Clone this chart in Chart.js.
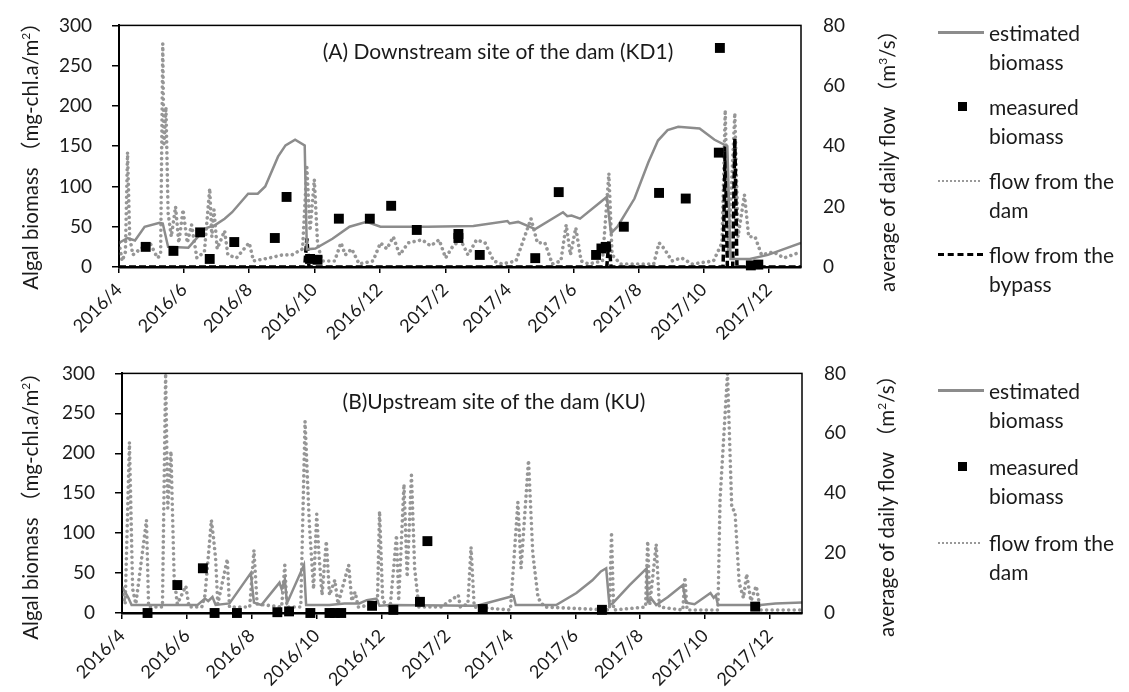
<!DOCTYPE html>
<html><head><meta charset="utf-8">
<script src="https://cdn.jsdelivr.net/npm/chart.js@4.4.1/dist/chart.umd.min.js"></script>
<style>
body{margin:0;background:#fff;width:1129px;height:692px;overflow:hidden;position:relative;font-family:Lato,"Noto Sans CJK SC",sans-serif;color:#1a1a1a}
canvas{position:absolute;left:0}
.t{position:absolute;white-space:nowrap;font-size:21px;line-height:29px}
.rot{position:absolute;transform:translate(-50%,-50%) rotate(-90deg);white-space:nowrap;font-size:20.5px}
.ptitle{position:absolute;transform:translate(-50%,-50%);white-space:nowrap;font-size:21px}
.sym{position:absolute}
</style></head>
<body>
<canvas id="cA" width="1129" height="348" style="top:-8px"></canvas>
<canvas id="cB" width="1129" height="352" style="top:340px"></canvas>

<div class="ptitle" style="left:498px;top:50px">(A) Downstream site of the dam (KD1)</div>
<div class="ptitle" style="left:494px;top:400px">(B)Upstream site of the dam (KU)</div>

<div class="rot" style="left:29px;top:151px">Algal biomass （mg-chl.a/m<sup style="font-size:12px">2</sup>）</div>
<div class="rot" style="left:886px;top:156px">average of daily flow （m<sup style="font-size:12px">3</sup>/s）</div>
<div class="rot" style="left:29px;top:501px">Algal biomass （mg-chl.a/m<sup style="font-size:12px">2</sup>）</div>
<div class="rot" style="left:885px;top:501px">average of daily flow （m<sup style="font-size:12px">2</sup>/s）</div>

<!-- legend A -->
<div class="sym" style="left:938px;top:31px;width:46px;border-top:3px solid #8c8c8c"></div>
<div class="t" style="left:989px;top:18px">estimated<br>biomass</div>
<div class="sym" style="left:958px;top:102px;width:9px;height:9px;background:#000"></div>
<div class="t" style="left:989px;top:92px">measured<br>biomass</div>
<div class="sym" style="left:938px;top:180px;width:42px;border-top:2px dotted #999"></div>
<div class="t" style="left:989px;top:166px">flow from the<br>dam</div>
<div class="sym" style="left:938px;top:253px;width:45px;border-top:3px dashed #000"></div>
<div class="t" style="left:989px;top:240px">flow from the<br>bypass</div>

<!-- legend B -->
<div class="sym" style="left:938px;top:389px;width:46px;border-top:3px solid #8c8c8c"></div>
<div class="t" style="left:989px;top:376px">estimated<br>biomass</div>
<div class="sym" style="left:958px;top:462px;width:9px;height:9px;background:#000"></div>
<div class="t" style="left:989px;top:452px">measured<br>biomass</div>
<div class="sym" style="left:938px;top:542px;width:42px;border-top:2px dotted #999"></div>
<div class="t" style="left:989px;top:528px">flow from the<br>dam</div>

<script>
// ---------- data ----------
const xTickLabels = ['2016/4','2016/6','2016/8','2016/10','2016/12','2017/2','2017/4','2017/6','2017/8','2017/10','2017/12'];
const xTickDates  = ['2016-04-01','2016-06-01','2016-08-01','2016-10-01','2016-12-01','2017-02-01','2017-04-01','2017-06-01','2017-08-01','2017-10-01','2017-12-01'];
const xStart = '2016-04-01', xEnd = '2017-12-31';

// Panel A (KD1): estimated biomass (mg-chl.a/m2)
const estA = [['2016-04-01',30],['2016-04-09',36],['2016-04-16',33],['2016-04-25',50],['2016-05-09',55],['2016-05-12',54],
 ['2016-05-17',25],['2016-06-05',24],['2016-06-11',33],['2016-06-21',48],['2016-06-30',52],['2016-07-09',60],['2016-07-16',68],
 ['2016-07-31',91],['2016-08-09',91],['2016-08-16',100],['2016-08-28',137],['2016-09-04',151],['2016-09-13',158],['2016-09-22',151],
 ['2016-09-24',22],['2016-10-02',23],['2016-10-18',35],['2016-11-03',50],['2016-11-19',56],['2016-12-02',50],['2017-01-15',50],
 ['2017-02-27',51],['2017-03-31',57],['2017-04-02',54],['2017-04-10',56],['2017-04-26',47],['2017-05-22',68],['2017-05-26',63],
 ['2017-05-30',64],['2017-06-07',60],['2017-07-02',87],['2017-07-06',42],['2017-07-12',50],['2017-07-28',85],['2017-08-10',130],
 ['2017-08-19',157],['2017-08-28',170],['2017-09-07',174],['2017-09-27',172],['2017-10-11',158],['2017-10-23',150],['2017-10-26',10],
 ['2017-11-13',10],['2017-11-30',15],['2017-12-31',30]];
// Panel A: measured biomass
const measA = [['2016-04-26',25],['2016-05-22',20],['2016-06-16',43],['2016-06-25',10],['2016-07-18',31],['2016-08-25',36],
 ['2016-09-05',87],['2016-09-27',10],['2016-10-04',9],['2016-10-24',60],['2016-11-22',60],['2016-12-12',76],['2017-01-05',46],
 ['2017-02-13',41],['2017-02-13',36],['2017-03-05',15],['2017-04-26',11],['2017-05-18',93],['2017-06-22',15],['2017-06-27',23],
 ['2017-07-01',25],['2017-07-18',50],['2017-08-20',92],['2017-09-14',85],['2017-10-15',142],['2017-10-16',272],['2017-11-14',2],
 ['2017-11-21',3]];
// Panel A: flow from the dam (m3/s)
const flowA = [['2016-04-01',8],['2016-04-04',2],['2016-04-07',5],['2016-04-09',38],['2016-04-11',10],['2016-04-14',4],['2016-04-21',6],
 ['2016-04-30',8],['2016-05-07',3],['2016-05-10',4],['2016-05-12',74],['2016-05-13',40],['2016-05-15',53],['2016-05-17',18],
 ['2016-05-20',10],['2016-05-24',20],['2016-05-27',8],['2016-05-31',19],['2016-06-04',8],['2016-06-08',14],['2016-06-13',3],
 ['2016-06-20',5],['2016-06-25',26],['2016-06-27',10],['2016-06-29',19],['2016-07-02',6],['2016-07-09',12],['2016-07-12',4],
 ['2016-07-20',3],['2016-08-01',8],['2016-08-05',2],['2016-08-20',3],['2016-09-01',4],['2016-09-10',4],['2016-09-20',6],
 ['2016-09-24',33],['2016-09-27',12],['2016-10-01',29],['2016-10-04',8],['2016-10-08',2],['2016-10-20',2],['2016-10-26',8],
 ['2016-10-30',4],['2016-11-05',6],['2016-11-12',1],['2016-11-25',2],['2016-12-02',8],['2016-12-08',6],['2016-12-14',10],
 ['2016-12-20',4],['2016-12-28',8],['2017-01-10',9],['2017-01-18',7],['2017-01-26',9],['2017-02-01',3],['2017-02-08',7],
 ['2017-02-15',9],['2017-02-22',4],['2017-03-02',9],['2017-03-10',8],['2017-03-18',2],['2017-03-26',1],['2017-04-08',2],
 ['2017-04-14',8],['2017-04-22',16],['2017-04-28',8],['2017-05-05',8],['2017-05-12',1],['2017-05-20',2],['2017-05-25',14],
 ['2017-05-29',4],['2017-06-03',13],['2017-06-08',2],['2017-06-15',1],['2017-06-28',2],['2017-07-04',31],['2017-07-07',4],
 ['2017-07-15',1],['2017-08-15',1],['2017-08-20',8],['2017-08-25',6],['2017-09-01',2],['2017-09-10',3],['2017-09-20',1],
 ['2017-10-10',2],['2017-10-18',8],['2017-10-21',52],['2017-10-24',5],['2017-10-30',51],['2017-11-02',10],['2017-11-08',24],
 ['2017-11-12',10],['2017-11-18',10],['2017-11-24',4],['2017-12-05',5],['2017-12-15',3],['2017-12-31',5]];
// Panel A: flow from the bypass (m3/s)
const bypassA = [['2016-04-01',0],['2016-09-22',0],['2016-09-24',9.5],['2016-09-26',0],['2017-07-02',0],['2017-07-04',8.5],
 ['2017-07-06',0],['2017-10-19',0],['2017-10-21',40],['2017-10-23',0],['2017-10-28',0],['2017-10-30',42.5],['2017-11-01',0],['2017-12-31',0]];

// Panel B (KU): estimated biomass
const estB = [['2016-04-01',33],['2016-04-07',19],['2016-04-10',10],['2016-06-11',10],['2016-06-18',18],['2016-06-21',15],
 ['2016-06-25',20],['2016-06-28',10],['2016-07-11',12],['2016-07-31',50],['2016-08-03',13],['2016-08-10',10],['2016-08-27',38],
 ['2016-08-29',30],['2016-09-01',42],['2016-09-03',13],['2016-09-04',15],['2016-09-19',60],['2016-09-21',10],['2016-10-13',10],
 ['2016-10-27',12],['2016-11-10',12],['2016-11-17',16],['2016-11-26',18],['2016-11-29',9],['2016-12-09',10],['2017-02-26',9],
 ['2017-03-03',10],['2017-03-31',20],['2017-04-04',21],['2017-04-06',10],['2017-05-14',10],['2017-06-02',25],['2017-06-17',41],
 ['2017-06-25',52],['2017-06-30',56],['2017-07-03',10],['2017-07-06',12],['2017-07-22',35],['2017-08-07',56],['2017-08-08',14],
 ['2017-08-12',17],['2017-08-16',10],['2017-08-27',20],['2017-09-10',35],['2017-09-13',13],['2017-09-21',11],['2017-10-06',25],
 ['2017-10-09',19],['2017-10-11',22],['2017-10-13',10],['2017-11-22',10],['2017-12-06',12],['2017-12-31',13]];
// Panel B: measured biomass
const measB = [['2016-04-25',0],['2016-05-23',35],['2016-06-16',56],['2016-06-27',0],['2016-07-18',0],['2016-08-25',1],
 ['2016-09-05',2],['2016-09-25',0],['2016-10-13',0],['2016-10-18',0],['2016-10-24',0],['2016-11-22',9],['2016-12-12',4],
 ['2017-01-06',14],['2017-01-13',90],['2017-03-06',5],['2017-06-26',4],['2017-11-17',8]];
// Panel B: flow from the dam (m2/s)
const flowB = [['2016-04-01',8],['2016-04-04',3],['2016-04-08',57],['2016-04-11',8],['2016-04-14',3],['2016-04-24',31],
 ['2016-04-26',2],['2016-05-09',2],['2016-05-12',80],['2016-05-14',35],['2016-05-17',54],['2016-05-20',12],['2016-05-23',3],
 ['2016-05-31',9],['2016-06-03',2],['2016-06-15',2],['2016-06-18',6],['2016-06-24',31],['2016-06-26',25],['2016-06-28',18],
 ['2016-06-30',3],['2016-07-09',18],['2016-07-11',2],['2016-07-30',2],['2016-08-03',21],['2016-08-06',3],['2016-08-29',2],
 ['2016-09-01',16],['2016-09-03',2],['2016-09-16',2],['2016-09-20',64],['2016-09-24',30],['2016-09-28',8],['2016-10-01',33],
 ['2016-10-03',20],['2016-10-06',6],['2016-10-10',24],['2016-10-13',6],['2016-10-18',11],['2016-10-21',3],['2016-10-31',16],
 ['2016-11-03',4],['2016-11-06',7],['2016-11-09',2],['2016-11-27',3],['2016-11-29',34],['2016-12-02',4],['2016-12-09',2],
 ['2016-12-15',26],['2016-12-17',4],['2016-12-22',43],['2016-12-25',12],['2016-12-29',46],['2017-01-01',15],['2017-01-05',2],
 ['2017-01-26',2],['2017-02-11',6],['2017-02-13',2],['2017-02-20',3],['2017-02-23',22],['2017-02-26',2],['2017-04-01',1],
 ['2017-04-08',37],['2017-04-11',15],['2017-04-18',51],['2017-04-22',20],['2017-04-27',5],['2017-05-03',2],['2017-07-03',1],
 ['2017-07-05',27],['2017-07-07',1],['2017-08-06',2],['2017-08-08',24],['2017-08-10',3],['2017-08-16',23],['2017-08-19',2],
 ['2017-09-10',1],['2017-09-12',12],['2017-09-14',1],['2017-10-13',1],['2017-10-15',38],['2017-10-22',80],['2017-10-26',35],
 ['2017-10-29',34],['2017-11-02',10],['2017-11-06',5],['2017-11-09',13],['2017-11-13',4],['2017-11-18',9],['2017-11-22',1],['2017-12-31',1]];

// ---------- helpers ----------
const DAY0 = Date.UTC(2016,3,1);
function dayOf(s){const p=s.split('-').map(Number);return (Date.UTC(p[0],p[1]-1,p[2])-DAY0)/86400000;}
function pts(arr){return arr.map(a=>({x:dayOf(a[0]),y:a[1]}));}
const xTicks = xTickDates.map(dayOf);

Chart.defaults.font.family = 'Lato, sans-serif';
Chart.defaults.font.size = 16;
Chart.defaults.color = '#1a1a1a';

const frame = {id:'frame',afterDatasetsDraw(chart){const c=chart.ctx,a=chart.chartArea;c.save();c.strokeStyle='#000';c.lineWidth=1.5;
  c.strokeRect(a.left,a.top,a.right-a.left,a.bottom-a.top);c.restore();}};

const GRAY='#8c8c8c';
function flowDs(arr){return {label:'flow from the dam',data:pts(arr),yAxisID:'y1',borderColor:'#969696',borderWidth:3.6,
  borderDash:[0.01,5.5],borderCapStyle:'round',pointRadius:0,order:3};}
function estDs(arr){return {label:'estimated biomass',data:pts(arr),yAxisID:'y',borderColor:GRAY,borderWidth:2.5,pointRadius:0,order:1};}
function measDs(arr){return {label:'measured biomass',data:pts(arr),yAxisID:'y',showLine:false,pointStyle:'rect',pointRadius:7,
  backgroundColor:'#000',borderColor:'#000',borderWidth:0,clip:false,order:0};}

function build(id, datasets, d){
  return new Chart(document.getElementById(id),{
    type:'line',
    data:{datasets},
    options:{
      responsive:false, animation:false, events:[],
      layout:{padding:{left:0,right:d.padR,top:d.padT,bottom:0}},
      plugins:{legend:{display:false},tooltip:{enabled:false}},
      elements:{line:{tension:0},point:{radius:0}},
      scales:{
        x:{type:'linear',min:dayOf(xStart),max:dayOf(xEnd),
          afterBuildTicks(s){s.ticks=xTicks.map(v=>({value:v}));},
          afterFit(s){s.height=d.xH;},
          ticks:{autoSkip:false,minRotation:45,maxRotation:45,padding:6,font:{size:18},callback:(v,i)=>xTickLabels[i]},
          grid:{display:true,drawOnChartArea:false,drawTicks:true,tickLength:6,color:'#000',lineWidth:1.5},
          border:{display:true,color:'#000',width:2.5}},
        y:{position:'left',min:0,max:300,afterFit(s){s.width=d.yW;},
          ticks:{stepSize:50,padding:20,font:{size:19}},
          grid:{display:true,drawOnChartArea:false,drawTicks:true,tickLength:7,color:'#000',lineWidth:1.5},
          border:{display:true,color:'#000',width:2}},
        y1:{position:'right',min:0,max:80,afterFit(s){s.width=100;},
          ticks:{stepSize:20,padding:22,font:{size:19}},
          grid:{display:false,drawTicks:false},border:{display:false}}
      }
    },
    plugins:[frame]
  });
}

build('cA',[measDs(measA),estDs(estA),
  {label:'flow from the bypass',data:pts(bypassA),yAxisID:'y1',borderColor:'#000',borderWidth:3.5,borderDash:[7,3],pointRadius:0,order:2},
  flowDs(flowA)],{padR:228,padT:33,xH:73,yW:119});
build('cB',[measDs(measB),estDs(estB),flowDs(flowB)],{padR:227,padT:33,xH:79,yW:122});
</script>
</body></html>
